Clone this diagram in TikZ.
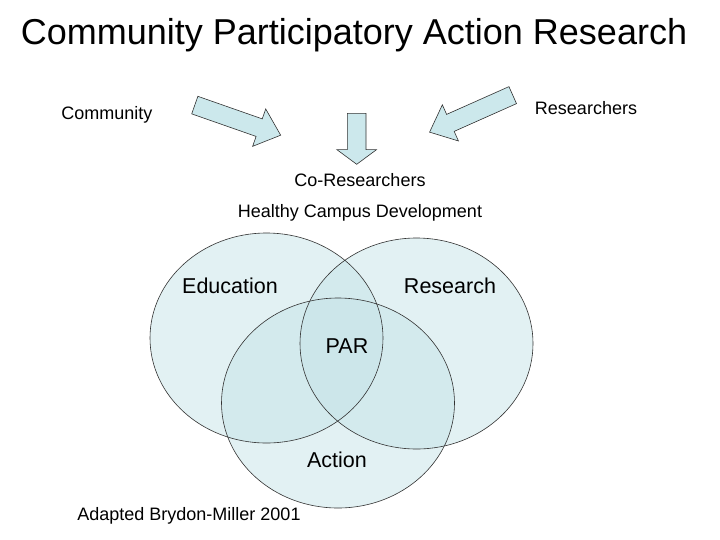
\documentclass[tikz,border=0pt]{standalone}
\usepackage{fontspec}
\setmainfont{Liberation Sans}
\usetikzlibrary{shapes.arrows}

\definecolor{arrowfill}{RGB}{204,232,236}
\definecolor{vennfill}{RGB}{198,228,232}
\definecolor{edgegray}{RGB}{50,50,50}

\tikzset{
  blockarrow/.style={shape=single arrow, draw=edgegray, fill=arrowfill, line width=0.6pt,
    inner xsep=0pt, inner ysep=9pt, single arrow head extend=10.5pt, anchor=tail},
  venn/.style={fill=vennfill, fill opacity=0.5},
  vennline/.style={draw=edgegray, line width=0.6pt},
  label/.style={font=\fontsize{18}{20}\selectfont},
  setlabel/.style={font=\fontsize{21.5}{24}\selectfont}
}

\begin{document}
\begin{tikzpicture}[x=1pt,y=-1pt]
    \useasboundingbox[fill=white] (0,0) rectangle (720,539);

    \node[font=\fontsize{36}{40}\selectfont] (title) at (354,35) {Community Participatory Action Research};

    \node[label] (comm) at (107,115) {Community};
    \node[label] (res) at (586,108) {Researchers};
    \node[label] (cores) at (360,180) {Co-Researchers};
    \node[label] (hcd) at (360,213) {Healthy Campus Development};

    \node[blockarrow, minimum height=91pt, single arrow tip angle=82, rotate=-19.3] (arrl) at (194.5,105) {};
    \node[blockarrow, minimum height=91pt, single arrow tip angle=82, rotate=-156] (arrr) at (513,95) {};
    \node[blockarrow, minimum height=51pt, single arrow tip angle=107, rotate=-90] (arrd) at (356.7,113) {};

    % the three circles
    \path[venn] (266.5,338) ellipse (116.5 and 105);
    \path[venn] (416.5,343.5) ellipse (116.5 and 105.5);
    \path[venn] (338,403) ellipse (116.5 and 105);
    \path[vennline] (266.5,338) ellipse (116.5 and 105);
    \path[vennline] (416.5,343.5) ellipse (116.5 and 105.5);
    \path[vennline] (338,403) ellipse (116.5 and 105);

    \node[setlabel] (edu) at (230,286) {Education};
    \node[setlabel] (rsch) at (450,286) {Research};
    \node[setlabel] (par) at (347,346) {PAR};
    \node[setlabel] (act) at (337,460) {Action};

    \node[label] (src) at (189,516) {Adapted Brydon-Miller 2001};
\end{tikzpicture}
\end{document}
